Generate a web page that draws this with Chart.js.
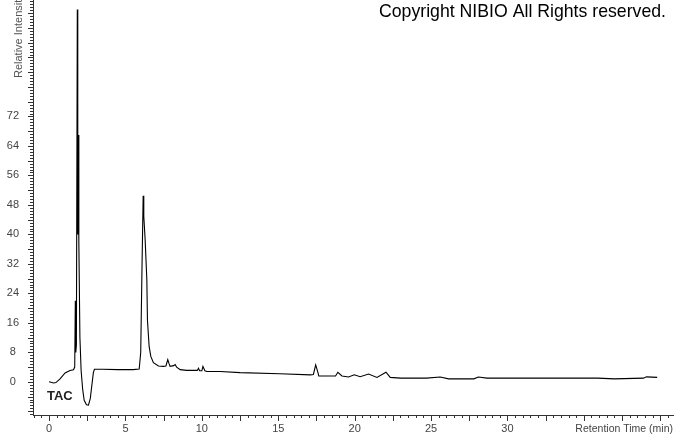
<!DOCTYPE html>
<html>
<head>
<meta charset="utf-8">
<script src="https://cdn.jsdelivr.net/npm/chart.js@4/dist/chart.umd.min.js"></script>
<style>
  html, body { margin: 0; padding: 0; background: #fff; }
  #chrom { display: block; }
</style>
</head>
<body>
<canvas id="chrom" width="674" height="434"></canvas>
<script>
// retention time (min) and relative intensity
let retentionTime = [0.0, 0.3, 0.45, 0.72, 1.05, 1.37, 1.6, 1.68, 1.72, 1.75, 1.79, 1.85, 1.88, 1.91, 1.95, 2.02, 2.1, 2.2, 2.3, 2.45,
  2.58, 2.7, 2.8, 2.9, 2.97, 3.5, 4.5, 5.5, 5.9, 6.0, 6.08, 6.16, 6.2, 6.29, 6.4, 6.44, 6.55, 6.66, 6.83, 7.16,
  7.48, 7.65, 7.77, 7.85, 7.92, 8.15, 8.25, 8.35, 8.58, 9.01, 9.5, 9.7, 9.78, 9.85, 10.0, 10.07, 10.2, 10.33, 11.2, 12.5,
  15.1, 17.1, 17.3, 17.45, 17.6, 17.65, 18.75, 18.9, 19.17, 19.6, 19.98, 20.36, 20.91, 21.46, 22.05, 22.33, 23.0, 24.7, 25.6, 26.15,
  27.8, 28.1, 28.66, 35.9, 37.0, 38.9, 39.1, 39.8]

let intensity = [0.0, -0.3, -0.2, 0.8, 2.4, 3.1, 3.3, 4.0, 22, 8, 10, 101, 40, 67, 38, 12, 3, -2, -5, -6.2,
  -6.3, -4.5, -1, 2.5, 3.4, 3.4, 3.3, 3.3, 3.5, 8, 30, 50.5, 45, 38.5, 27.7, 16.8, 9.6, 6.9, 5.2, 4.3,
  4.2, 4.3, 6.0, 5.0, 4.2, 4.4, 4.7, 4.0, 3.3, 3.1, 3.1, 3.1, 3.7, 3.0, 3.0, 4.2, 3.0, 2.8, 2.8, 2.5,
  2.2, 1.9, 2.0, 4.6, 2.5, 1.6, 1.6, 2.6, 1.6, 1.3, 1.9, 1.4, 2.1, 1.2, 2.6, 1.2, 1.0, 1.0, 1.3, 0.8,
  0.8, 1.3, 1.0, 1.0, 0.8, 1.0, 1.35, 1.2]

let xLabelled = [0, 5, 10, 15, 20, 25, 30]
let yLabelled = [0, 8, 16, 24, 32, 40, 48, 56, 64, 72]

// minor tick spacing of the two axes (every 5th one is long)
let xMinor = 0.5
let yMinor = 0.8

const fontFam = '"Liberation Sans", Arial, sans-serif'

function near(v, list) {
  return list.some(a => Math.abs(a - v) < 1e-6)
}

// tick marks: long on majors, short on minors (scale positions)
const tickMarks = {
  id: 'tickMarks',
  afterDraw(chart) {
    const ctx = chart.ctx
    const xs = chart.scales.x
    const ys = chart.scales.y
    ctx.save()
    ctx.strokeStyle = '#333'
    ctx.lineWidth = 1
    ctx.beginPath()
    for (let k = Math.ceil(xs.min / xMinor); k * xMinor <= xs.max; k++) {
      const px = Math.round(xs.getPixelForValue(k * xMinor)) + 0.5
      const len = (k % 5 === 0) ? 6 : 3
      ctx.moveTo(px, xs.top)
      ctx.lineTo(px, xs.top + len)
    }
    for (let k = Math.ceil(ys.min / yMinor); k * yMinor <= ys.max; k++) {
      const py = Math.round(ys.getPixelForValue(k * yMinor)) + 0.5
      const len = (k % 5 === 0) ? 5 : 3
      ctx.moveTo(ys.right - len, py)
      ctx.lineTo(ys.right, py)
    }
    ctx.stroke()
    ctx.restore()
  }
}

// texts around the plot
const captions = {
  id: 'captions',
  afterDraw(chart) {
    const ctx = chart.ctx
    ctx.save()
    ctx.fillStyle = '#000'
    ctx.font = '17.7px ' + fontFam
    ctx.textAlign = 'right'
    ctx.textBaseline = 'alphabetic'
    ctx.fillText('Copyright NIBIO All Rights reserved.', 666, 17)

    ctx.fillStyle = '#444'
    ctx.font = '10.5px ' + fontFam
    ctx.fillText('Retention Time (min)', 673, 432)

    ctx.fillStyle = '#222'
    ctx.font = 'bold 13px ' + fontFam
    ctx.textAlign = 'left'
    ctx.fillText('TAC', 47, 400)

    ctx.fillStyle = '#555'
    ctx.font = '11px ' + fontFam
    ctx.translate(22, 78)
    ctx.rotate(-Math.PI / 2)
    ctx.textAlign = 'left'
    ctx.fillText('Relative Intensity', 0, 0)
    ctx.restore()
  }
}

const config = {
  type: 'line',
  data: {
    datasets: [{
      data: retentionTime.map((t, i) => ({ x: t, y: intensity[i] })),
      borderColor: '#000',
      borderWidth: 1.1,
      pointRadius: 0,
      tension: 0,
      fill: false
    }]
  },
  options: {
    responsive: false,
    animation: false,
    devicePixelRatio: 1,
    layout: { padding: 0 },
    plugins: {
      legend: { display: false },
      tooltip: { enabled: false }
    },
    scales: {
      x: {
        type: 'linear',
        position: 'bottom',
        min: -1.05,
        max: 40.9,
        grid: { display: false, tickLength: 7 },
        border: { display: true, color: '#333', width: 1 },
        ticks: {
          stepSize: xMinor,
          maxTicksLimit: 1000,
          includeBounds: false,
          autoSkip: false,
          maxRotation: 0,
          padding: 0,
          color: '#444',
          font: { family: fontFam, size: 11 },
          callback: v => near(v, xLabelled) ? String(Math.round(v)) : null
        },
        afterFit: s => { s.height = 19; s.paddingLeft = 0; s.paddingRight = 0 }
      },
      y: {
        type: 'linear',
        position: 'left',
        min: -9,
        max: 103.6,
        grid: { display: false, tickLength: 14 },
        border: { display: true, color: '#333', width: 1 },
        ticks: {
          stepSize: yMinor,
          maxTicksLimit: 1000,
          includeBounds: false,
          autoSkip: false,
          crossAlign: 'center',
          padding: 0,
          color: '#444',
          font: { family: fontFam, size: 11 },
          callback: v => near(v, yLabelled) ? String(Math.round(v)) : null
        },
        afterFit: s => { s.width = 33; s.paddingTop = 0; s.paddingBottom = 0 }
      }
    }
  },
  plugins: [tickMarks, captions]
}

window.onload = function () {
  new Chart(document.getElementById('chrom'), config)
}
</script>
</body>
</html>
